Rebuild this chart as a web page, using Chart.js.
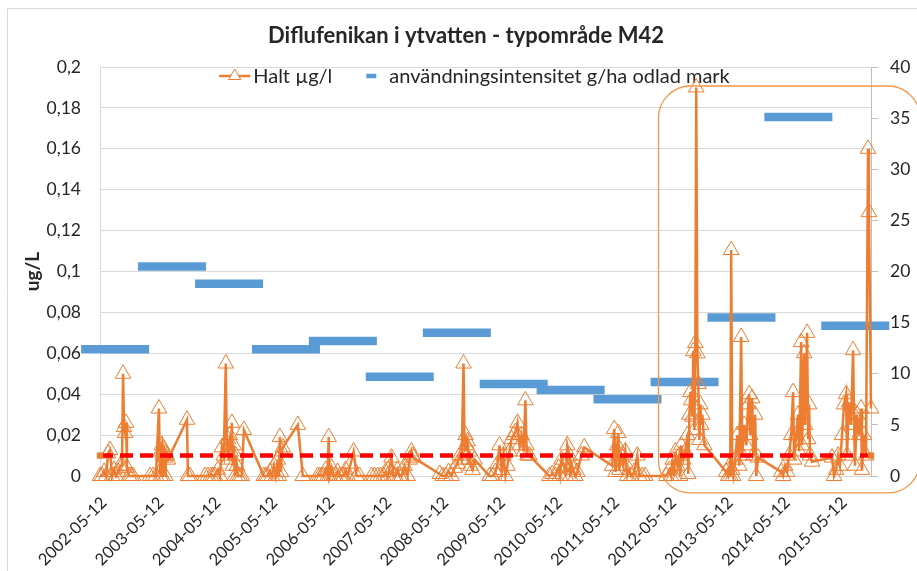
<!DOCTYPE html>
<html>
<head>
<meta charset="utf-8">
<script src="https://cdn.jsdelivr.net/npm/chart.js@4.4.1/dist/chart.umd.min.js"></script>
<style>
html,body{margin:0;padding:0;background:#fff;overflow:hidden;}
#wrap{width:917px;height:571px;position:relative;}
</style>
</head>
<body>
<div id="wrap"><canvas id="c" width="917" height="571"></canvas></div>
<script>
// ---------- data ----------
const chartTitle = 'Diflufenikan i ytvatten - typområde M42';
const leftAxisTitle = 'ug/L';
const haltLabel = 'Halt µg/l';
const intensityLabel = 'användningsintensitet g/ha odlad mark';

const xTickLabels = ['2002-05-12','2003-05-12','2004-05-12','2005-05-12','2006-05-12','2007-05-12','2008-05-12',
  '2009-05-12','2010-05-12','2011-05-12','2012-05-12','2013-05-12','2014-05-12','2015-05-12'];
const xStart = '2002-05-12';
const xEnd = '2015-11-26';

// Halt µg/l (left axis)
const haltDates = [
  '2002-05-12','2002-05-25','2002-06-07','2002-06-20','2002-07-03','2002-07-15','2002-07-28','2002-08-10','2002-08-23','2002-09-05','2002-09-18','2002-09-30','2002-10-07','2002-10-13','2002-10-20','2002-10-26','2002-11-01','2002-11-14','2002-11-27','2002-12-10',
  '2003-03-29','2003-04-17','2003-05-06','2003-05-25','2003-06-01','2003-06-04','2003-06-07','2003-06-13','2003-06-16','2003-06-20','2003-06-26','2003-07-03','2003-07-06','2003-07-09','2003-07-15','2003-07-22','2003-11-21','2003-11-27','2003-12-10',
  '2004-03-15','2004-04-03','2004-04-22','2004-05-05','2004-05-18','2004-06-06','2004-06-19','2004-07-02','2004-07-14','2004-07-27','2004-08-03','2004-08-09','2004-08-15','2004-08-22','2004-08-28','2004-09-04','2004-09-10','2004-09-17','2004-09-23','2004-09-29','2004-10-06','2004-10-12','2004-10-25','2004-11-07','2004-11-20',
  '2005-03-28','2005-04-10','2005-04-23','2005-05-06','2005-05-19','2005-06-01','2005-06-13','2005-06-26','2005-07-02','2005-07-09','2005-07-15','2005-07-22','2005-07-28','2005-11-01','2005-12-03',
  '2006-03-08','2006-03-21','2006-04-03','2006-04-16','2006-04-29','2006-05-11','2006-05-18','2006-05-24','2006-06-06','2006-06-19','2006-07-02','2006-07-14','2006-07-27','2006-08-09','2006-08-22','2006-09-04','2006-09-17','2006-10-06','2006-10-25','2006-11-13','2006-12-02',
  '2007-02-17','2007-03-08','2007-03-28','2007-04-16','2007-05-05','2007-05-18','2007-06-01','2007-06-12','2007-06-25','2007-07-08','2007-07-21','2007-08-03','2007-08-15','2007-08-28','2007-09-17','2007-10-06','2007-10-19','2007-10-31','2007-11-07','2007-11-13',
  '2008-04-29','2008-05-18','2008-06-06','2008-06-25','2008-07-14','2008-08-03','2008-08-22','2008-09-04','2008-09-17','2008-09-29','2008-10-06','2008-10-12','2008-10-19','2008-10-25','2008-10-31','2008-11-07','2008-11-13','2008-11-26','2008-12-09',
  '2009-03-15','2009-04-03','2009-04-22','2009-05-05','2009-05-18','2009-06-01','2009-06-12','2009-06-25','2009-07-08','2009-07-21','2009-08-03','2009-08-15','2009-08-28','2009-09-10','2009-09-23','2009-10-06','2009-10-19','2009-10-31','2009-11-07','2009-11-13','2009-11-26',
  '2010-04-03','2010-04-22','2010-05-11','2010-06-01','2010-06-10','2010-06-19','2010-07-08','2010-07-18','2010-07-27','2010-08-09','2010-08-15','2010-08-22','2010-09-04','2010-09-17','2010-09-29','2010-10-25','2010-11-13',
  '2011-05-11','2011-05-24','2011-06-01','2011-06-12','2011-06-19','2011-06-25','2011-07-08','2011-07-21','2011-08-03','2011-08-15','2011-08-28','2011-09-10','2011-09-29','2011-10-19','2011-10-31','2011-11-20','2011-12-09',
  '2012-04-22','2012-05-11','2012-05-22','2012-06-01','2012-06-10','2012-06-19','2012-07-02','2012-07-14','2012-07-20','2012-07-27','2012-08-09','2012-08-22','2012-09-04','2012-09-10','2012-09-17','2012-09-23','2012-09-29','2012-10-06','2012-10-12','2012-10-19','2012-10-25','2012-10-31','2012-11-07','2012-11-13','2012-11-20','2012-11-26','2012-12-02','2012-12-09','2012-12-22',
  '2013-05-11','2013-05-24','2013-06-01','2013-06-06','2013-06-12','2013-06-19','2013-06-25','2013-07-08','2013-07-21','2013-08-03','2013-08-15','2013-08-22','2013-09-04','2013-09-17','2013-09-29','2013-10-06','2013-10-12','2013-10-25','2013-10-31','2013-11-13','2013-11-20','2013-12-02',
  '2014-04-29','2014-05-11','2014-05-24','2014-06-06','2014-06-19','2014-07-02','2014-07-14','2014-07-21','2014-08-03','2014-08-15','2014-08-22','2014-09-04','2014-09-10','2014-09-23','2014-09-29','2014-10-12','2014-10-19','2014-10-25','2014-10-31','2014-11-13',
  '2015-03-21','2015-04-03','2015-04-16','2015-04-29','2015-05-11','2015-05-24','2015-06-06','2015-06-19','2015-06-25','2015-07-08','2015-07-21','2015-08-03','2015-08-09','2015-08-15','2015-08-28','2015-09-10','2015-09-23','2015-09-29','2015-10-12','2015-10-25','2015-11-07','2015-11-13','2015-11-26'
];
const haltValues = [
  0,0,0.002,0,0.011,0.0127,0,0.003,0,0.002,0.005,0.005,0.05,0.024,0.021,0.026,0.004,0,0,0,
  0,0,0,0.033,0.002,0,0.012,0.015,0,0.01,0.013,0.009,0,0.011,0.01,0.008,0.0275,0,0,
  0,0,0,0,0,0.003,0,0.014,0.01,0.055,0.012,0.018,0.008,0.02,0.012,0.026,0.005,0.015,0,0.01,0.005,0,0,0,0.0225,
  0,0,0,0.002,0,0.005,0,0.008,0,0.019,0.002,0.012,0.014,0.025,0,
  0,0,0,0,0.003,0,0.019,0,0.004,0,0,0.002,0,0,0,0.003,0,0.006,0.012,0,0,
  0,0,0,0,0,0.002,0,0.004,0.009,0,0,0.003,0,0,0.005,0,0.008,0.012,0.01,0.009,
  0.001,0,0,0.002,0,0.004,0.006,0.01,0.008,0.055,0.012,0.02,0.015,0.017,0.008,0.012,0.005,0.003,0.008,
  0,0,0.002,0.006,0.015,0.003,0.01,0,0.005,0.012,0.018,0.02,0.0215,0.026,0.015,0.02,0.012,0.037,0.015,0.01,0.01,
  0,0.001,0,0.004,0,0.008,0.005,0,0.015,0.01,0,0.006,0.003,0,0.002,0.01,0.014,
  0.005,0.023,0.002,0.015,0.021,0.003,0.01,0.005,0.012,0,0.003,0,0.002,0.01,0,0,0,
  0,0.003,0,0.008,0,0.012,0.005,0.01,0,0.015,0.008,0.012,0.02,0.001,0.03,0.041,0.037,0.029,0.061,0.0225,0.065,0.19,0.06,0.045,0.0176,0.035,0.025,0.03,0.015,
  0.002,0,0.005,0,0.1105,0.003,0,0.008,0.02,0.005,0.068,0.01,0.025,0.015,0.035,0.04,0.02,0.038,0.01,0.03,0,0.009,
  0.002,0,0.005,0.002,0.01,0.02,0.041,0.008,0.02,0.03,0.012,0.0655,0.015,0.06,0.025,0.07,0.018,0.035,0.01,0.007,
  0.009,0,0.003,0.01,0.005,0.02,0.035,0.04,0.01,0.036,0.025,0.0615,0.03,0.005,0.03,0.02,0.033,0.003,0.02,0.01,0.16,0.129,0.033
];

// användningsintensitet g/ha odlad mark (right axis), one value per year
const intensityDates = ['2002-08-17','2003-08-17','2004-08-17','2005-08-17','2006-08-17','2007-08-17','2008-08-17',
  '2009-08-17','2010-08-17','2011-08-17','2012-08-17','2013-08-17','2014-08-17','2015-08-17'];
const intensityValues = [12.4, 20.5, 18.8, 12.4, 13.2, 9.7, 14.0, 9.0, 8.4, 7.5, 9.2, 15.5, 35.1, 14.7];

// reference level (red dashed line)
const guideValue = 0.01;

// highlighted period (orange rounded frame, open past the right edge of the picture)
const highlightFrom = '2012-03-03';
const highlightTop = 0.1907;
const highlightBottom = -0.0083;

// ---------- chart ----------
const T = s => Date.parse(s);
const haltData = haltDates.map((d, i) => ({x: T(d), y: haltValues[i]})).sort((a, b) => a.x - b.x);
const intensityData = intensityDates.map((d, i) => ({x: T(d), y: intensityValues[i]}));
const guideData = [{x: T(xStart), y: guideValue}, {x: T(xEnd), y: guideValue}];

const ORANGE = '#ED7D31';
const BLUE = '#5B9BD5';
const TXT = '#262626';
const FONT = 'Lato';
const PAD_L = 15;

const decor = {
  id: 'decor',
  beforeDraw(chart) {
    const {ctx, width, height} = chart;
    ctx.save();
    ctx.fillStyle = '#fff';
    ctx.fillRect(0, 0, width, height);
    ctx.strokeStyle = '#D9D9D9';
    ctx.lineWidth = 1;
    ctx.beginPath();
    ctx.moveTo(7.5, height);
    ctx.lineTo(7.5, 8.5);
    ctx.lineTo(width, 8.5);
    ctx.stroke();
    ctx.restore();
  },
  beforeDatasetsDraw(chart) {
    // legend inside plot area
    const {ctx, chartArea} = chart;
    ctx.save();
    ctx.font = '20px ' + FONT;
    ctx.textBaseline = 'middle';
    ctx.fillStyle = TXT;
    const y = chartArea.top + 9;
    const w1 = ctx.measureText(haltLabel).width;
    const w2 = ctx.measureText(intensityLabel).width;
    const total = 31 + 3 + w1 + 34 + 10 + 13 + w2;
    let x = (chartArea.left + chartArea.right) / 2 - 11 - total / 2;
    ctx.strokeStyle = ORANGE;
    ctx.lineWidth = 2.5;
    ctx.beginPath(); ctx.moveTo(x, y); ctx.lineTo(x + 31, y); ctx.stroke();
    // triangle marker
    const cx = x + 15.5, r = 7;
    ctx.lineWidth = 1;
    ctx.fillStyle = '#fff';
    ctx.beginPath();
    ctx.moveTo(cx, y - r);
    ctx.lineTo(cx + r * 0.866, y + r / 2);
    ctx.lineTo(cx - r * 0.866, y + r / 2);
    ctx.closePath();
    ctx.fill(); ctx.stroke();
    ctx.fillStyle = TXT;
    x += 34;
    ctx.fillText(haltLabel, x, y + 1);
    x += w1 + 34;
    ctx.strokeStyle = BLUE;
    ctx.lineWidth = 4.5;
    ctx.beginPath(); ctx.moveTo(x, y); ctx.lineTo(x + 10, y); ctx.stroke();
    x += 23;
    ctx.fillText(intensityLabel, x, y + 1);
    ctx.restore();
  },
  afterDatasetsDraw(chart) {
    const {ctx} = chart;
    const xs = chart.scales.x, ys = chart.scales.y;
    const l = xs.getPixelForValue(T(highlightFrom));
    const r = chart.width + 3;
    const t = ys.getPixelForValue(highlightTop);
    const b = ys.getPixelForValue(highlightBottom);
    const rad = 32;
    ctx.save();
    ctx.strokeStyle = '#F79646';
    ctx.lineWidth = 1.3;
    ctx.beginPath();
    ctx.moveTo(l + rad, t);
    ctx.lineTo(r - rad, t);
    ctx.arcTo(r, t, r, t + rad, rad);
    ctx.lineTo(r, b - rad);
    ctx.arcTo(r, b, r - rad, b, rad);
    ctx.lineTo(l + rad, b);
    ctx.arcTo(l, b, l, b - rad, rad);
    ctx.lineTo(l, t + rad);
    ctx.arcTo(l, t, l + rad, t, rad);
    ctx.closePath();
    ctx.stroke();
    ctx.restore();
  }
};

new Chart(document.getElementById('c'), {
  type: 'line',
  data: {
    datasets: [
      {
        label: 'riktvärde',
        data: guideData,
        yAxisID: 'y',
        borderColor: '#FF0000',
        borderWidth: 4.5,
        borderDash: [13, 7],
        pointStyle: 'rect',
        pointRadius: 4.5,
        pointBackgroundColor: ORANGE,
        pointBorderColor: ORANGE,
        pointBorderWidth: 0,
        clip: false
      },
      {
        label: haltLabel,
        data: haltData,
        yAxisID: 'y',
        borderColor: ORANGE,
        borderWidth: 2.5,
        tension: 0,
        pointStyle: 'triangle',
        pointRadius: 9,
        pointBorderWidth: 1,
        pointBorderColor: ORANGE,
        pointBackgroundColor: 'rgba(255,255,255,0)',
        clip: false
      },
      {
        label: intensityLabel,
        data: intensityData,
        yAxisID: 'y2',
        showLine: false,
        pointStyle: 'line',
        pointRadius: 34,
        pointBorderWidth: 8.5,
        pointBorderColor: BLUE,
        pointBackgroundColor: BLUE,
        borderColor: BLUE,
        clip: false
      }
    ]
  },
  options: {
    responsive: false,
    animation: false,
    devicePixelRatio: 1,
    events: [],
    layout: {padding: {left: PAD_L, right: 0, top: 0, bottom: 0}},
    plugins: {
      legend: {display: false},
      tooltip: {enabled: false},
      title: {
        display: true,
        text: chartTitle,
        color: TXT,
        font: {family: FONT, size: 22, weight: 'bold'},
        padding: {top: 23, bottom: 17.6}
      }
    },
    scales: {
      x: {
        type: 'linear',
        min: T(xStart),
        max: T(xEnd),
        afterBuildTicks: s => { s.ticks = xTickLabels.map(l => ({value: T(l)})); },
        afterFit: s => { s.height = 571 - 476; },
        grid: {display: false, drawTicks: false},
        border: {display: true, color: '#D9D9D9'},
        ticks: {
          autoSkip: false,
          minRotation: 45,
          maxRotation: 45,
          padding: 17,
          labelOffset: 4,
          color: TXT,
          font: {family: FONT, size: 16.5},
          callback: (v, i) => xTickLabels[i]
        }
      },
      y: {
        position: 'left',
        min: 0,
        max: 0.2,
        afterFit: s => { s.width = 100 - PAD_L; },
        grid: {color: '#D9D9D9', drawTicks: false},
        border: {display: true, color: '#D9D9D9'},
        title: {
          display: true,
          text: leftAxisTitle,
          color: TXT,
          font: {family: FONT, size: 19, weight: 'bold'},
          padding: {top: 6.6, bottom: 0}
        },
        ticks: {
          stepSize: 0.02,
          padding: 19,
          color: TXT,
          font: {family: FONT, size: 17.5},
          callback: v => String(Number(v.toFixed(2))).replace('.', ',')
        }
      },
      y2: {
        position: 'right',
        min: 0,
        max: 40,
        afterFit: s => { s.width = 917 - 871; },
        grid: {drawOnChartArea: false, drawTicks: true, tickLength: 7, color: '#BFBFBF'},
        border: {display: true, color: '#BFBFBF'},
        ticks: {
          stepSize: 5,
          padding: 12,
          color: TXT,
          font: {family: FONT, size: 17.5}
        }
      }
    }
  },
  plugins: [decor]
});
</script>
</body>
</html>
